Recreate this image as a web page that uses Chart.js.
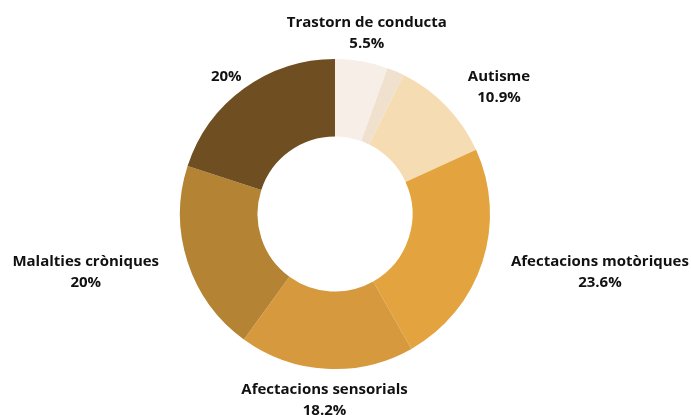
<!DOCTYPE html>
<html>
<head>
<meta charset="utf-8">
<script src="https://cdn.jsdelivr.net/npm/chart.js@4"></script>
<style>
  html, body { margin: 0; padding: 0; background: #ffffff; }
  #wrap { width: 691px; height: 415px; }
</style>
</head>
<body>
<div id="wrap"><canvas id="chart"></canvas></div>
<script>
// data, clockwise from 12 o'clock
const categories = ['Trastorn de conducta', '', 'Autisme', 'Afectacions motòriques',
                    'Afectacions sensorials', 'Malalties cròniques', ''];
const percents   = [5.5, 1.8, 10.9, 23.6, 18.2, 20, 20];
const showLabel  = [true, false, true, true, true, true, true];
const colors     = ['#f7eee8', '#efe1cd', '#f5dcb3', '#e3a43f', '#d6993d', '#b58334', '#6f4f22'];

const LABEL_FONT = "bold 15px 'Open Sans', sans-serif";

// draws "name / value%" outside each slice, lines centred inside the block
const outsideLabels = {
  id: 'outsideLabels',
  afterDatasetsDraw(chart) {
    const ctx  = chart.ctx;
    const meta = chart.getDatasetMeta(0);
    ctx.save();
    ctx.font = LABEL_FONT;
    ctx.fillStyle = '#111111';
    ctx.textBaseline = 'middle';
    ctx.textAlign = 'center';
    meta.data.forEach((arc, i) => {
      if (!showLabel[i]) return;
      const lines = [categories[i], percents[i] + '%'];
      const w   = Math.max(...lines.map(t => ctx.measureText(t).width));
      const mid = (arc.startAngle + arc.endAngle) / 2;
      const r   = arc.outerRadius + 30;
      const x   = arc.x + Math.cos(mid) * r;
      const y   = arc.y + Math.sin(mid) * r + 1.5;
      const c   = Math.cos(mid);
      let cx = x;
      if (Math.abs(c) >= 0.65) cx = c > 0 ? x + w / 2 : x - w / 2;
      ctx.fillText(lines[0], cx, y - 10.5);
      ctx.fillText(lines[1], cx, y + 10.5);
    });
    ctx.restore();
  },
};

new Chart(document.getElementById('chart'), {
  type: 'doughnut',
  data: {
    labels: categories,
    datasets: [{
      data: percents,
      backgroundColor: colors,
      borderWidth: 0,
      hoverOffset: 0,
    }],
  },
  options: {
    responsive: true,
    maintainAspectRatio: false,
    animation: false,
    cutout: '50%',
    layout: { padding: { top: 59, bottom: 46, left: 100, right: 121 } },
    plugins: {
      legend: { display: false },
      tooltip: { enabled: false },
    },
  },
  plugins: [outsideLabels],
});
</script>
</body>
</html>
